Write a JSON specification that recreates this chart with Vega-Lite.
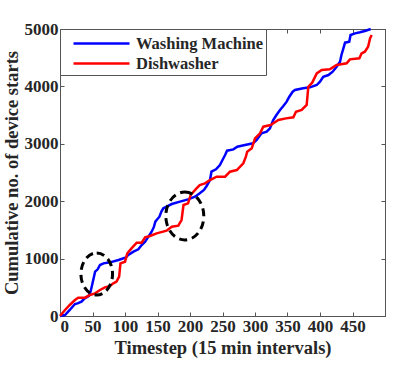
{
  "$schema": "https://vega.github.io/schema/vega-lite/v6.json",
  "width": 325,
  "height": 287,
  "autosize": {"type": "none"},
  "padding": {"left": 60, "top": 29, "right": 30, "bottom": 54},
  "background": "white",
  "config": {
    "view": {"stroke": "#555555", "strokeWidth": 1},
    "font": "Liberation Serif",
    "axis": {
      "labelFont": "Liberation Serif", "labelFontWeight": "bold", "labelFontSize": 17, "labelColor": "#262626",
      "titleFont": "Liberation Serif", "titleFontWeight": "bold", "titleFontSize": 18.5, "titleColor": "#262626",
      "grid": false, "domainColor": "#555555", "tickColor": "#555555", "tickSize": -4, "domainWidth": 1, "labelPadding": 6
    },
    "legend": {
      "labelFont": "Liberation Serif", "labelFontWeight": "bold", "labelFontSize": 16.5, "labelColor": "#262626"
    }
  },
  "datasets": {
    "lines": [
      {"device": "Washing Machine", "t": 0, "starts": 0},
      {"device": "Washing Machine", "t": 7.7, "starts": 17},
      {"device": "Washing Machine", "t": 15, "starts": 105},
      {"device": "Washing Machine", "t": 23, "starts": 209},
      {"device": "Washing Machine", "t": 27, "starts": 220},
      {"device": "Washing Machine", "t": 33, "starts": 250},
      {"device": "Washing Machine", "t": 38, "starts": 308},
      {"device": "Washing Machine", "t": 44, "starts": 348},
      {"device": "Washing Machine", "t": 47, "starts": 424},
      {"device": "Washing Machine", "t": 50, "starts": 569},
      {"device": "Washing Machine", "t": 54, "starts": 772},
      {"device": "Washing Machine", "t": 58, "starts": 813},
      {"device": "Washing Machine", "t": 61.5, "starts": 888},
      {"device": "Washing Machine", "t": 67, "starts": 917},
      {"device": "Washing Machine", "t": 77, "starts": 935},
      {"device": "Washing Machine", "t": 90, "starts": 976},
      {"device": "Washing Machine", "t": 101.5, "starts": 1022},
      {"device": "Washing Machine", "t": 105, "starts": 1063},
      {"device": "Washing Machine", "t": 113, "starts": 1121},
      {"device": "Washing Machine", "t": 120.5, "starts": 1161},
      {"device": "Washing Machine", "t": 125.6, "starts": 1237},
      {"device": "Washing Machine", "t": 131, "starts": 1295},
      {"device": "Washing Machine", "t": 136, "starts": 1382},
      {"device": "Washing Machine", "t": 141, "starts": 1469},
      {"device": "Washing Machine", "t": 144.6, "starts": 1556},
      {"device": "Washing Machine", "t": 146.7, "starts": 1643},
      {"device": "Washing Machine", "t": 148.7, "starts": 1672},
      {"device": "Washing Machine", "t": 153, "starts": 1730},
      {"device": "Washing Machine", "t": 156, "starts": 1818},
      {"device": "Washing Machine", "t": 159, "starts": 1876},
      {"device": "Washing Machine", "t": 164, "starts": 1905},
      {"device": "Washing Machine", "t": 172, "starts": 1951},
      {"device": "Washing Machine", "t": 184.6, "starts": 1992},
      {"device": "Washing Machine", "t": 197, "starts": 2032},
      {"device": "Washing Machine", "t": 207.7, "starts": 2079},
      {"device": "Washing Machine", "t": 215, "starts": 2137},
      {"device": "Washing Machine", "t": 221.5, "starts": 2195},
      {"device": "Washing Machine", "t": 225.6, "starts": 2265},
      {"device": "Washing Machine", "t": 230.8, "starts": 2369},
      {"device": "Washing Machine", "t": 233, "starts": 2514},
      {"device": "Washing Machine", "t": 240, "starts": 2555},
      {"device": "Washing Machine", "t": 246, "starts": 2631},
      {"device": "Washing Machine", "t": 250, "starts": 2718},
      {"device": "Washing Machine", "t": 254, "starts": 2805},
      {"device": "Washing Machine", "t": 257, "starts": 2880},
      {"device": "Washing Machine", "t": 266.7, "starts": 2903},
      {"device": "Washing Machine", "t": 272.8, "starts": 2950},
      {"device": "Washing Machine", "t": 284.6, "starts": 2979},
      {"device": "Washing Machine", "t": 297, "starts": 3008},
      {"device": "Washing Machine", "t": 302.6, "starts": 3066},
      {"device": "Washing Machine", "t": 310, "starts": 3182},
      {"device": "Washing Machine", "t": 318, "starts": 3211},
      {"device": "Washing Machine", "t": 323, "starts": 3269},
      {"device": "Washing Machine", "t": 328, "starts": 3414},
      {"device": "Washing Machine", "t": 333, "starts": 3502},
      {"device": "Washing Machine", "t": 338.5, "starts": 3589},
      {"device": "Washing Machine", "t": 343.6, "starts": 3658},
      {"device": "Washing Machine", "t": 348.7, "starts": 3734},
      {"device": "Washing Machine", "t": 352.8, "starts": 3821},
      {"device": "Washing Machine", "t": 358, "starts": 3908},
      {"device": "Washing Machine", "t": 361.5, "starts": 3937},
      {"device": "Washing Machine", "t": 374, "starts": 3966},
      {"device": "Washing Machine", "t": 384.6, "starts": 3984},
      {"device": "Washing Machine", "t": 395, "starts": 4024},
      {"device": "Washing Machine", "t": 400, "starts": 4082},
      {"device": "Washing Machine", "t": 405, "starts": 4169},
      {"device": "Washing Machine", "t": 413, "starts": 4198},
      {"device": "Washing Machine", "t": 419.5, "starts": 4256},
      {"device": "Washing Machine", "t": 425.6, "starts": 4343},
      {"device": "Washing Machine", "t": 430.8, "starts": 4431},
      {"device": "Washing Machine", "t": 433, "starts": 4547},
      {"device": "Washing Machine", "t": 436, "starts": 4663},
      {"device": "Washing Machine", "t": 438.5, "starts": 4762},
      {"device": "Washing Machine", "t": 445, "starts": 4779},
      {"device": "Washing Machine", "t": 447, "starts": 4895},
      {"device": "Washing Machine", "t": 454, "starts": 4924},
      {"device": "Washing Machine", "t": 461.5, "starts": 4942},
      {"device": "Washing Machine", "t": 469, "starts": 4965},
      {"device": "Washing Machine", "t": 478, "starts": 5000},
      {"device": "Dishwasher", "t": 0, "starts": 0},
      {"device": "Dishwasher", "t": 7.7, "starts": 105},
      {"device": "Dishwasher", "t": 15, "starts": 192},
      {"device": "Dishwasher", "t": 23, "starts": 279},
      {"device": "Dishwasher", "t": 28, "starts": 319},
      {"device": "Dishwasher", "t": 38.5, "starts": 319},
      {"device": "Dishwasher", "t": 46, "starts": 366},
      {"device": "Dishwasher", "t": 54, "starts": 395},
      {"device": "Dishwasher", "t": 61.5, "starts": 453},
      {"device": "Dishwasher", "t": 69, "starts": 499},
      {"device": "Dishwasher", "t": 77, "starts": 523},
      {"device": "Dishwasher", "t": 82, "starts": 569},
      {"device": "Dishwasher", "t": 87, "starts": 598},
      {"device": "Dishwasher", "t": 91, "starts": 685},
      {"device": "Dishwasher", "t": 93, "starts": 917},
      {"device": "Dishwasher", "t": 100, "starts": 946},
      {"device": "Dishwasher", "t": 103.6, "starts": 1092},
      {"device": "Dishwasher", "t": 110, "starts": 1179},
      {"device": "Dishwasher", "t": 118, "starts": 1277},
      {"device": "Dishwasher", "t": 125.6, "starts": 1277},
      {"device": "Dishwasher", "t": 131, "starts": 1370},
      {"device": "Dishwasher", "t": 138.5, "starts": 1394},
      {"device": "Dishwasher", "t": 148.7, "starts": 1440},
      {"device": "Dishwasher", "t": 164, "starts": 1487},
      {"device": "Dishwasher", "t": 172, "starts": 1556},
      {"device": "Dishwasher", "t": 182, "starts": 1574},
      {"device": "Dishwasher", "t": 187, "starts": 1672},
      {"device": "Dishwasher", "t": 190, "starts": 1934},
      {"device": "Dishwasher", "t": 197, "starts": 1963},
      {"device": "Dishwasher", "t": 201, "starts": 2108},
      {"device": "Dishwasher", "t": 210, "starts": 2224},
      {"device": "Dishwasher", "t": 215, "starts": 2282},
      {"device": "Dishwasher", "t": 223, "starts": 2311},
      {"device": "Dishwasher", "t": 230.8, "starts": 2369},
      {"device": "Dishwasher", "t": 241, "starts": 2427},
      {"device": "Dishwasher", "t": 254, "starts": 2427},
      {"device": "Dishwasher", "t": 261.5, "starts": 2514},
      {"device": "Dishwasher", "t": 272, "starts": 2543},
      {"device": "Dishwasher", "t": 282, "starts": 2660},
      {"device": "Dishwasher", "t": 286, "starts": 2776},
      {"device": "Dishwasher", "t": 288, "starts": 2863},
      {"device": "Dishwasher", "t": 295, "starts": 2921},
      {"device": "Dishwasher", "t": 300, "starts": 3095},
      {"device": "Dishwasher", "t": 307.7, "starts": 3182},
      {"device": "Dishwasher", "t": 312.8, "starts": 3298},
      {"device": "Dishwasher", "t": 324, "starts": 3327},
      {"device": "Dishwasher", "t": 336, "starts": 3414},
      {"device": "Dishwasher", "t": 347.7, "starts": 3443},
      {"device": "Dishwasher", "t": 359, "starts": 3461},
      {"device": "Dishwasher", "t": 363, "starts": 3559},
      {"device": "Dishwasher", "t": 371.8, "starts": 3589},
      {"device": "Dishwasher", "t": 379.5, "starts": 3676},
      {"device": "Dishwasher", "t": 382, "starts": 3995},
      {"device": "Dishwasher", "t": 388, "starts": 4065},
      {"device": "Dishwasher", "t": 395, "starts": 4227},
      {"device": "Dishwasher", "t": 402.6, "starts": 4285},
      {"device": "Dishwasher", "t": 415, "starts": 4297},
      {"device": "Dishwasher", "t": 425.6, "starts": 4373},
      {"device": "Dishwasher", "t": 441, "starts": 4402},
      {"device": "Dishwasher", "t": 446, "starts": 4471},
      {"device": "Dishwasher", "t": 460.5, "starts": 4489},
      {"device": "Dishwasher", "t": 464, "starts": 4576},
      {"device": "Dishwasher", "t": 469, "starts": 4605},
      {"device": "Dishwasher", "t": 474, "starts": 4692},
      {"device": "Dishwasher", "t": 477, "starts": 4837},
      {"device": "Dishwasher", "t": 479.5, "starts": 4895}
    ],
    "ellipse1": [{"t": 56.5, "starts": 732}],
    "ellipse2": [{"t": 192, "starts": 1742}]
  },
  "layer": [
    {
      "data": {"name": "lines"},
      "mark": {"type": "line", "opacity": 0},
      "encoding": {
        "x": {"field": "t", "type": "quantitative", "scale": {"domain": [0, 500], "nice": false},
              "axis": {"orient": "top", "values": [0, 50, 100, 150, 200, 250, 300, 350, 400, 450], "labels": false, "title": null, "domain": true, "ticks": true}},
        "y": {"field": "starts", "type": "quantitative", "scale": {"domain": [0, 5000], "nice": false},
              "axis": {"orient": "right", "values": [0, 1000, 2000, 3000, 4000, 5000], "labels": false, "title": null, "domain": true, "ticks": true}},
        "detail": {"field": "device", "type": "nominal"}
      }
    },
    {
      "data": {"name": "lines"},
      "mark": {"type": "line", "strokeWidth": 2.5},
      "encoding": {
        "x": {"field": "t", "type": "quantitative",
              "axis": {"orient": "bottom", "values": [0, 50, 100, 150, 200, 250, 300, 350, 400, 450], "title": "Timestep (15 min intervals)", "titlePadding": 4}},
        "y": {"field": "starts", "type": "quantitative",
              "axis": {"orient": "left", "values": [0, 1000, 2000, 3000, 4000, 5000], "format": "d", "title": "Cumulative no. of device starts", "titlePadding": 3}},
        "color": {"field": "device", "type": "nominal",
                  "scale": {"domain": ["Washing Machine", "Dishwasher"], "range": ["#0000FF", "#FF0000"]},
                  "legend": {"title": null, "orient": "none", "legendX": 0, "legendY": 0, "symbolType": "M-2.8,0H2.8", "symbolSize": 400, "symbolOffset": 27, "symbolStrokeWidth": 2.5, "fillColor": "white", "strokeColor": "#555555", "padding": 3, "labelOffset": 23, "rowPadding": 0}}
      }
    },
    {
      "data": {"name": "ellipse1"},
      "mark": {"type": "point", "shape": "M0,-1.33A1,1.33 0 1,1 0,1.33A1,1.33 0 1,1 0,-1.33Z", "size": 1000, "filled": false, "stroke": "black", "strokeWidth": 3, "strokeDash": [8, 5], "opacity": 1},
      "encoding": {
        "x": {"field": "t", "type": "quantitative", "axis": null},
        "y": {"field": "starts", "type": "quantitative", "axis": null}
      }
    },
    {
      "data": {"name": "ellipse2"},
      "mark": {"type": "point", "shape": "M0,-1.26A1,1.26 0 1,1 0,1.26A1,1.26 0 1,1 0,-1.26Z", "size": 1444, "filled": false, "stroke": "black", "strokeWidth": 3, "strokeDash": [8, 5], "opacity": 1},
      "encoding": {
        "x": {"field": "t", "type": "quantitative", "axis": null},
        "y": {"field": "starts", "type": "quantitative", "axis": null}
      }
    }
  ],
  "resolve": {"axis": {"x": "independent", "y": "independent"}}
}
